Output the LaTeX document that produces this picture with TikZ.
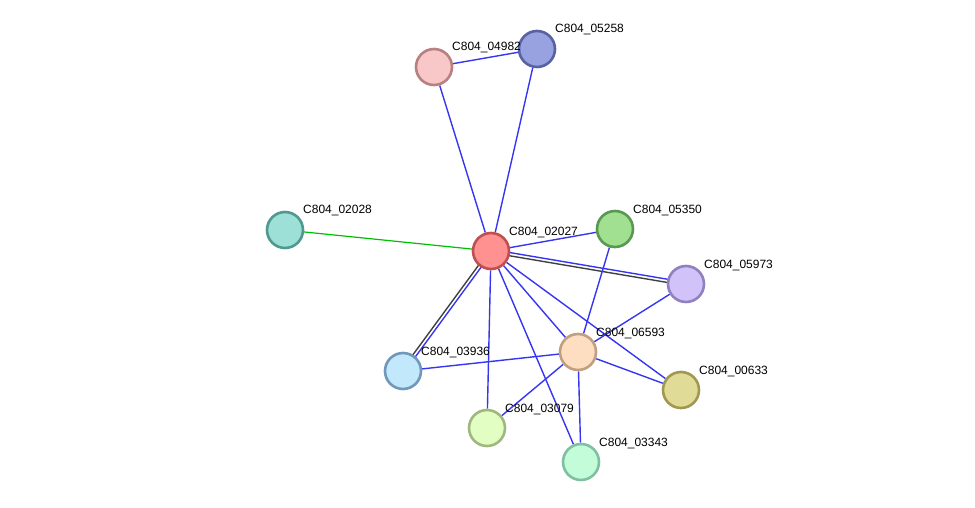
\documentclass[tikz,border=0pt]{standalone}
\usepackage{fontspec}
\setmainfont{Liberation Sans}
\usetikzlibrary{backgrounds,calc}
\tikzset{
  prot/.style={circle, minimum size=36pt, inner sep=0pt, line width=2.6pt},
  lab/.style={anchor=base west, font=\fontsize{12}{14}\selectfont, inner sep=0pt},
  eb/.style={draw=blue!80!white, line width=1.4pt},
  eg/.style={draw=green!75!black, line width=1.2pt},
  ek/.style={draw=black!75, line width=1.4pt},
}
\definecolor{blueedge}{HTML}{3636F0}
\begin{document}
\begin{tikzpicture}[x=1pt,y=-1pt]
\useasboundingbox (0,0) rectangle (975,508);
\tikzset{eb/.style={draw=blueedge, line width=1.4pt}}
\node[prot, fill={rgb,255:red,255;green,145;blue,145}, draw={rgb,255:red,192;green,80;blue,80}] (n02027) at (491,251) {};
\node[prot, fill={rgb,255:red,248;green,200;blue,200}, draw={rgb,255:red,184;green,128;blue,128}] (n04982) at (434,67) {};
\node[prot, fill={rgb,255:red,152;green,162;blue,224}, draw={rgb,255:red,88;green,98;blue,160}] (n05258) at (537,49) {};
\node[prot, fill={rgb,255:red,156;green,224;blue,216}, draw={rgb,255:red,80;green,152;blue,144}] (n02028) at (285,230) {};
\node[prot, fill={rgb,255:red,160;green,224;blue,144}, draw={rgb,255:red,88;green,152;blue,80}] (n05350) at (615,229) {};
\node[prot, fill={rgb,255:red,210;green,194;blue,250}, draw={rgb,255:red,144;green,128;blue,192}] (n05973) at (686,284) {};
\node[prot, fill={rgb,255:red,253;green,222;blue,192}, draw={rgb,255:red,192;green,160;blue,128}] (n06593) at (578,352) {};
\node[prot, fill={rgb,255:red,194;green,232;blue,251}, draw={rgb,255:red,112;green,152;blue,184}] (n03936) at (403,371) {};
\node[prot, fill={rgb,255:red,224;green,220;blue,152}, draw={rgb,255:red,160;green,152;blue,80}] (n00633) at (681,390) {};
\node[prot, fill={rgb,255:red,226;green,254;blue,194}, draw={rgb,255:red,160;green,184;blue,128}] (n03079) at (487,428) {};
\node[prot, fill={rgb,255:red,194;green,252;blue,216}, draw={rgb,255:red,128;green,192;blue,160}] (n03343) at (581,462) {};
\foreach \n in {02027,04982,05258,02028,05350,05973,06593,03936,00633,03079,03343}{
  \node[lab] (l\n) at ($(n\n)+(18,-16)$) {C804\_\n};
}
\begin{pgfonlayer}{background}
\draw[eb] (n04982) -- (n05258);
\draw[eb] (n04982) -- (n02027);
\draw[eb] (n05258) -- (n02027);
\draw[eg] (n02028) -- (n02027);
\draw[eb] (n02027) -- (n05350);
\draw[eb] ($(n02027)!1.6pt!90:(n05973)$) -- ($(n05973)!1.6pt!-90:(n02027)$);
\draw[ek] ($(n02027)!1.6pt!-90:(n05973)$) -- ($(n05973)!1.6pt!90:(n02027)$);
\draw[eb] ($(n02027)!1.6pt!90:(n03936)$) -- ($(n03936)!1.6pt!-90:(n02027)$);
\draw[ek] ($(n02027)!1.6pt!-90:(n03936)$) -- ($(n03936)!1.6pt!90:(n02027)$);
\draw[eb] (n02027) -- (n03079);
\draw[eb] (n02027) -- (n03343);
\draw[eb] (n02027) -- (n06593);
\draw[eb] (n02027) -- (n00633);
\draw[eb] (n05350) -- (n06593);
\draw[eb] (n05973) -- (n06593);
\draw[eb] (n06593) -- (n03936);
\draw[eb] (n06593) -- (n03079);
\draw[eb] (n06593) -- (n03343);
\draw[eb] (n06593) -- (n00633);
\end{pgfonlayer}
\end{tikzpicture}
\end{document}
